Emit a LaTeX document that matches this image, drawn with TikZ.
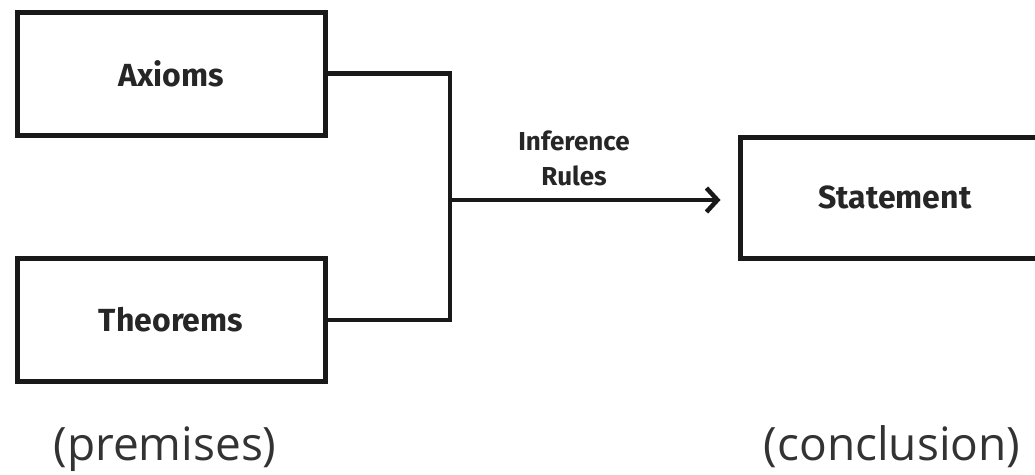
\documentclass[tikz,border=0pt]{standalone}
\usepackage{fontspec}
\setmainfont{Open Sans}
\newfontfamily\boxfont{Fira Sans}
\usetikzlibrary{arrows.meta}

\begin{document}
\begin{tikzpicture}[x=1pt, y=-1pt,
	box/.style={draw=black!90, line width=5pt, minimum width=308pt, minimum height=123pt,
		text=black!85, font=\boxfont\bfseries\fontsize{32}{38}\selectfont},
	link/.style={draw=black!90, line width=4.5pt},
	caption/.style={text=black!80, anchor=base, font=\fontsize{46}{52}\selectfont}]
	\useasboundingbox (0, 0) rectangle (1035, 474);
	
	\node [box] (axioms) at (171, 73.5) {Axioms};
	\node [box] (theorems) at (171, 320) {Theorems};
	\node [box, minimum width=310pt, minimum height=121pt] (statement) at (895, 197.5) {Statement};
	
	\coordinate (junction) at (450, 200);
	\draw [link] (axioms.east) -| (junction) |- (theorems.east);
	\draw [link, -{Straight Barb[length=11pt, width=24pt]}, shorten >=17pt] (junction) -- (junction -| statement.west);
	
	\node [text=black!85, align=center, font=\boxfont\bfseries\fontsize{26}{35}\selectfont] (rules) at (574, 158) {Inference\\Rules};
	
	\node [caption] (premises) at (165, 460) {(premises)};
	\node [caption] (conclusion) at (892, 460) {(conclusion)};
\end{tikzpicture}
\end{document}
